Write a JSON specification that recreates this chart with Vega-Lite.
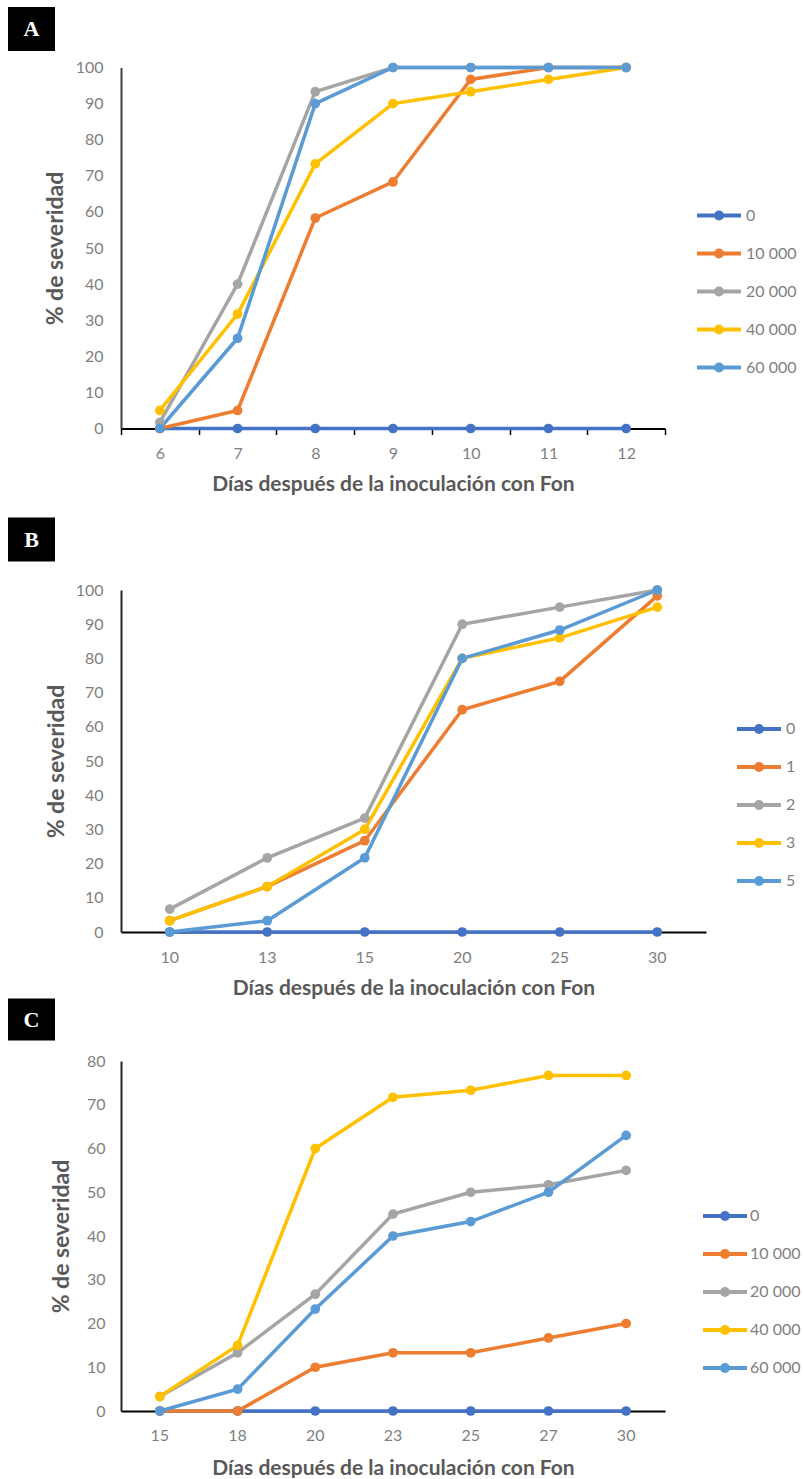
{
  "$schema": "https://vega.github.io/schema/vega-lite/v6.json",
  "padding": {"left": 8, "top": 7, "right": 0, "bottom": 0},
  "background": "white",
  "datasets": {
    "dA": [
      {"dia": 6, "dosis": "0", "sev": 0}, {"dia": 7, "dosis": "0", "sev": 0}, {"dia": 8, "dosis": "0", "sev": 0}, {"dia": 9, "dosis": "0", "sev": 0}, {"dia": 10, "dosis": "0", "sev": 0}, {"dia": 11, "dosis": "0", "sev": 0}, {"dia": 12, "dosis": "0", "sev": 0},
      {"dia": 6, "dosis": "10 000", "sev": 0}, {"dia": 7, "dosis": "10 000", "sev": 5}, {"dia": 8, "dosis": "10 000", "sev": 58.3}, {"dia": 9, "dosis": "10 000", "sev": 68.3}, {"dia": 10, "dosis": "10 000", "sev": 96.7}, {"dia": 11, "dosis": "10 000", "sev": 100}, {"dia": 12, "dosis": "10 000", "sev": 100},
      {"dia": 6, "dosis": "20 000", "sev": 1.7}, {"dia": 7, "dosis": "20 000", "sev": 40}, {"dia": 8, "dosis": "20 000", "sev": 93.3}, {"dia": 9, "dosis": "20 000", "sev": 100}, {"dia": 10, "dosis": "20 000", "sev": 100}, {"dia": 11, "dosis": "20 000", "sev": 100}, {"dia": 12, "dosis": "20 000", "sev": 100},
      {"dia": 6, "dosis": "40 000", "sev": 5}, {"dia": 7, "dosis": "40 000", "sev": 31.7}, {"dia": 8, "dosis": "40 000", "sev": 73.3}, {"dia": 9, "dosis": "40 000", "sev": 90}, {"dia": 10, "dosis": "40 000", "sev": 93.3}, {"dia": 11, "dosis": "40 000", "sev": 96.7}, {"dia": 12, "dosis": "40 000", "sev": 100},
      {"dia": 6, "dosis": "60 000", "sev": 0}, {"dia": 7, "dosis": "60 000", "sev": 25}, {"dia": 8, "dosis": "60 000", "sev": 90}, {"dia": 9, "dosis": "60 000", "sev": 100}, {"dia": 10, "dosis": "60 000", "sev": 100}, {"dia": 11, "dosis": "60 000", "sev": 100}, {"dia": 12, "dosis": "60 000", "sev": 100}
    ],
    "dB": [
      {"dia": 10, "dosis": "0", "sev": 0}, {"dia": 13, "dosis": "0", "sev": 0}, {"dia": 15, "dosis": "0", "sev": 0}, {"dia": 20, "dosis": "0", "sev": 0}, {"dia": 25, "dosis": "0", "sev": 0}, {"dia": 30, "dosis": "0", "sev": 0},
      {"dia": 10, "dosis": "1", "sev": 3.3}, {"dia": 13, "dosis": "1", "sev": 13.3}, {"dia": 15, "dosis": "1", "sev": 26.7}, {"dia": 20, "dosis": "1", "sev": 65}, {"dia": 25, "dosis": "1", "sev": 73.3}, {"dia": 30, "dosis": "1", "sev": 98.3},
      {"dia": 10, "dosis": "2", "sev": 6.7}, {"dia": 13, "dosis": "2", "sev": 21.7}, {"dia": 15, "dosis": "2", "sev": 33.3}, {"dia": 20, "dosis": "2", "sev": 90}, {"dia": 25, "dosis": "2", "sev": 95}, {"dia": 30, "dosis": "2", "sev": 100},
      {"dia": 10, "dosis": "3", "sev": 3.3}, {"dia": 13, "dosis": "3", "sev": 13.3}, {"dia": 15, "dosis": "3", "sev": 30}, {"dia": 20, "dosis": "3", "sev": 80}, {"dia": 25, "dosis": "3", "sev": 86}, {"dia": 30, "dosis": "3", "sev": 95},
      {"dia": 10, "dosis": "5", "sev": 0}, {"dia": 13, "dosis": "5", "sev": 3.3}, {"dia": 15, "dosis": "5", "sev": 21.7}, {"dia": 20, "dosis": "5", "sev": 80}, {"dia": 25, "dosis": "5", "sev": 88.3}, {"dia": 30, "dosis": "5", "sev": 100}
    ],
    "dC": [
      {"dia": 15, "dosis": "0", "sev": 0}, {"dia": 18, "dosis": "0", "sev": 0}, {"dia": 20, "dosis": "0", "sev": 0}, {"dia": 23, "dosis": "0", "sev": 0}, {"dia": 25, "dosis": "0", "sev": 0}, {"dia": 27, "dosis": "0", "sev": 0}, {"dia": 30, "dosis": "0", "sev": 0},
      {"dia": 15, "dosis": "10 000", "sev": 0}, {"dia": 18, "dosis": "10 000", "sev": 0}, {"dia": 20, "dosis": "10 000", "sev": 10}, {"dia": 23, "dosis": "10 000", "sev": 13.3}, {"dia": 25, "dosis": "10 000", "sev": 13.3}, {"dia": 27, "dosis": "10 000", "sev": 16.7}, {"dia": 30, "dosis": "10 000", "sev": 20},
      {"dia": 15, "dosis": "20 000", "sev": 3.3}, {"dia": 18, "dosis": "20 000", "sev": 13.3}, {"dia": 20, "dosis": "20 000", "sev": 26.7}, {"dia": 23, "dosis": "20 000", "sev": 45}, {"dia": 25, "dosis": "20 000", "sev": 50}, {"dia": 27, "dosis": "20 000", "sev": 51.7}, {"dia": 30, "dosis": "20 000", "sev": 55},
      {"dia": 15, "dosis": "40 000", "sev": 3.3}, {"dia": 18, "dosis": "40 000", "sev": 15}, {"dia": 20, "dosis": "40 000", "sev": 60}, {"dia": 23, "dosis": "40 000", "sev": 71.7}, {"dia": 25, "dosis": "40 000", "sev": 73.3}, {"dia": 27, "dosis": "40 000", "sev": 76.7}, {"dia": 30, "dosis": "40 000", "sev": 76.7},
      {"dia": 15, "dosis": "60 000", "sev": 0}, {"dia": 18, "dosis": "60 000", "sev": 5}, {"dia": 20, "dosis": "60 000", "sev": 23.3}, {"dia": 23, "dosis": "60 000", "sev": 40}, {"dia": 25, "dosis": "60 000", "sev": 43.3}, {"dia": 27, "dosis": "60 000", "sev": 50}, {"dia": 30, "dosis": "60 000", "sev": 63}
    ]
  },
  "spacing": 23.5,
  "resolve": {"scale": {"color": "independent"}, "legend": {"color": "independent"}},
  "vconcat": [
    {
      "columns": 2,
      "spacing": {"row": 8.5, "column": -19},
      "align": "none",
      "resolve": {"scale": {"color": "independent"}, "legend": {"color": "independent"}},
      "concat": [
        {
          "width": 47, "height": 44,
          "view": {"fill": "#000000", "stroke": null},
          "data": {"values": [{"t": "A"}]},
          "mark": {"type": "text", "font": "Liberation Serif", "fontWeight": "bold", "fontSize": 22, "color": "#ffffff", "align": "center", "baseline": "middle"},
          "encoding": {"text": {"field": "t"}}
        },
        {"width": 1, "height": 1, "data": {"values": [{"z": 0}]}, "mark": {"type": "point", "opacity": 0, "size": 0}},
        {"width": 1, "height": 1, "data": {"values": [{"z": 0}]}, "mark": {"type": "point", "opacity": 0, "size": 0}},
        {
          "width": 544, "height": 361,
          "data": {"name": "dA"},
          "encoding": {
            "x": {"field": "dia", "type": "ordinal", "scale": {"type": "band", "paddingInner": 0, "paddingOuter": 0},
              "axis": {"title": "Días después de la inoculación con Fon", "labelAngle": 0, "ticks": true, "tickSize": 6, "tickBand": "extent", "tickColor": "#000000", "tickWidth": 1.5, "domainColor": "#000000", "domainWidth": 2, "labelPadding": 11, "titlePadding": 11.5}},
            "y": {"field": "sev", "type": "quantitative", "scale": {"domain": [0, 100]},
              "axis": {"title": "% de severidad", "titleFontSize": 23, "values": [0, 10, 20, 30, 40, 50, 60, 70, 80, 90, 100], "ticks": false, "tickSize": 0, "labelPadding": 18, "domainColor": "#404040", "domainWidth": 2, "minExtent": 85, "titleX": -66, "titleBaseline": "middle"}},
            "color": {"field": "dosis", "type": "nominal",
              "scale": {"domain": ["0", "10 000", "20 000", "40 000", "60 000"], "range": ["#4472C4", "#ED7D31", "#A5A5A5", "#FFC000", "#5B9BD5"]},
              "legend": {"orient": "none", "legendX": 586, "legendY": 136, "labelOffset": 15}}
          },
          "layer": [
            {"mark": {"type": "line", "strokeWidth": 3.5}},
            {"mark": {"type": "circle", "size": 95, "opacity": 1}}
          ]
        }
      ]
    },
    {
      "spacing": -2,
      "resolve": {"scale": {"color": "independent"}, "legend": {"color": "independent"}},
      "vconcat": [
        {
          "columns": 2,
          "spacing": {"row": 20.5, "column": -19},
          "align": "none",
          "resolve": {"scale": {"color": "independent"}, "legend": {"color": "independent"}},
          "concat": [
            {
              "width": 47, "height": 44,
              "view": {"fill": "#000000", "stroke": null},
              "data": {"values": [{"t": "B"}]},
              "mark": {"type": "text", "font": "Liberation Serif", "fontWeight": "bold", "fontSize": 22, "color": "#ffffff", "align": "center", "baseline": "middle"},
              "encoding": {"text": {"field": "t"}}
            },
            {"width": 1, "height": 1, "data": {"values": [{"z": 0}]}, "mark": {"type": "point", "opacity": 0, "size": 0}},
            {"width": 1, "height": 1, "data": {"values": [{"z": 0}]}, "mark": {"type": "point", "opacity": 0, "size": 0}},
            {
              "width": 585, "height": 342,
              "data": {"name": "dB"},
              "encoding": {
                "x": {"field": "dia", "type": "ordinal", "scale": {"type": "band", "paddingInner": 0, "paddingOuter": 0},
                  "axis": {"title": "Días después de la inoculación con Fon", "labelAngle": 0, "ticks": false, "tickSize": 0, "domainColor": "#000000", "domainWidth": 2, "labelPadding": 17, "titlePadding": 12}},
                "y": {"field": "sev", "type": "quantitative", "scale": {"domain": [0, 100]},
                  "axis": {"title": "% de severidad", "titleFontSize": 23, "values": [0, 10, 20, 30, 40, 50, 60, 70, 80, 90, 100], "ticks": false, "tickSize": 0, "labelPadding": 18, "domainColor": "#262626", "domainWidth": 2, "minExtent": 85, "titleX": -65, "titleBaseline": "middle"}},
                "color": {"field": "dosis", "type": "nominal",
                  "scale": {"domain": ["0", "1", "2", "3", "5"], "range": ["#4472C4", "#ED7D31", "#A5A5A5", "#FFC000", "#5B9BD5"]},
                  "legend": {"orient": "none", "legendX": 626, "legendY": 127, "labelOffset": 15}}
              },
              "layer": [
                {"mark": {"type": "line", "strokeWidth": 3.5}},
                {"mark": {"type": "circle", "size": 95, "opacity": 1}}
              ]
            }
          ]
        },
        {
          "columns": 2,
          "spacing": {"row": 12.5, "column": -19},
          "align": "none",
          "resolve": {"scale": {"color": "independent"}, "legend": {"color": "independent"}},
          "concat": [
            {
              "width": 47, "height": 42,
              "view": {"fill": "#000000", "stroke": null},
              "data": {"values": [{"t": "C"}]},
              "mark": {"type": "text", "font": "Liberation Serif", "fontWeight": "bold", "fontSize": 22, "color": "#ffffff", "align": "center", "baseline": "middle"},
              "encoding": {"text": {"field": "t"}}
            },
            {"width": 1, "height": 1, "data": {"values": [{"z": 0}]}, "mark": {"type": "point", "opacity": 0, "size": 0}},
            {"width": 1, "height": 1, "data": {"values": [{"z": 0}]}, "mark": {"type": "point", "opacity": 0, "size": 0}},
            {
              "width": 544, "height": 350,
              "data": {"name": "dC"},
              "encoding": {
                "x": {"field": "dia", "type": "ordinal", "scale": {"type": "band", "paddingInner": 0, "paddingOuter": 0},
                  "axis": {"title": "Días después de la inoculación con Fon", "labelAngle": 0, "ticks": false, "tickSize": 0, "domainColor": "#000000", "domainWidth": 2, "labelPadding": 16, "titlePadding": 14}},
                "y": {"field": "sev", "type": "quantitative", "scale": {"domain": [0, 80]},
                  "axis": {"title": "% de severidad", "titleFontSize": 23, "values": [0, 10, 20, 30, 40, 50, 60, 70, 80], "ticks": false, "tickSize": 0, "labelPadding": 16, "domainColor": "#262626", "domainWidth": 2, "minExtent": 85, "titleX": -60, "titleBaseline": "middle"}},
                "color": {"field": "dosis", "type": "nominal",
                  "scale": {"domain": ["0", "10 000", "20 000", "40 000", "60 000"], "range": ["#4472C4", "#ED7D31", "#A5A5A5", "#FFC000", "#5B9BD5"]},
                  "legend": {"orient": "none", "legendX": 592, "legendY": 143, "labelOffset": 13}}
              },
              "layer": [
                {"mark": {"type": "line", "strokeWidth": 3.5}},
                {"mark": {"type": "circle", "size": 95, "opacity": 1}}
              ]
            }
          ]
        }
      ]
    }
  ],
  "config": {
    "font": "Lato",
    "view": {"stroke": null},
    "axis": {"grid": false, "labelFont": "Lato", "labelFontSize": 16, "labelColor": "#7f7f7f", "titleFont": "Lato", "titleFontSize": 21, "titleFontWeight": "bold", "titleColor": "#595959"},
    "legend": {"title": null, "padding": 0, "rowPadding": 15, "labelFont": "Lato", "labelFontSize": 16, "labelColor": "#7f7f7f", "symbolType": "M-2.2,0H2.2M-0.3,0A0.3,0.3,0,1,1,0.3,0A0.3,0.3,0,1,1,-0.3,0", "symbolSize": 400, "symbolStrokeWidth": 4}
  }
}
